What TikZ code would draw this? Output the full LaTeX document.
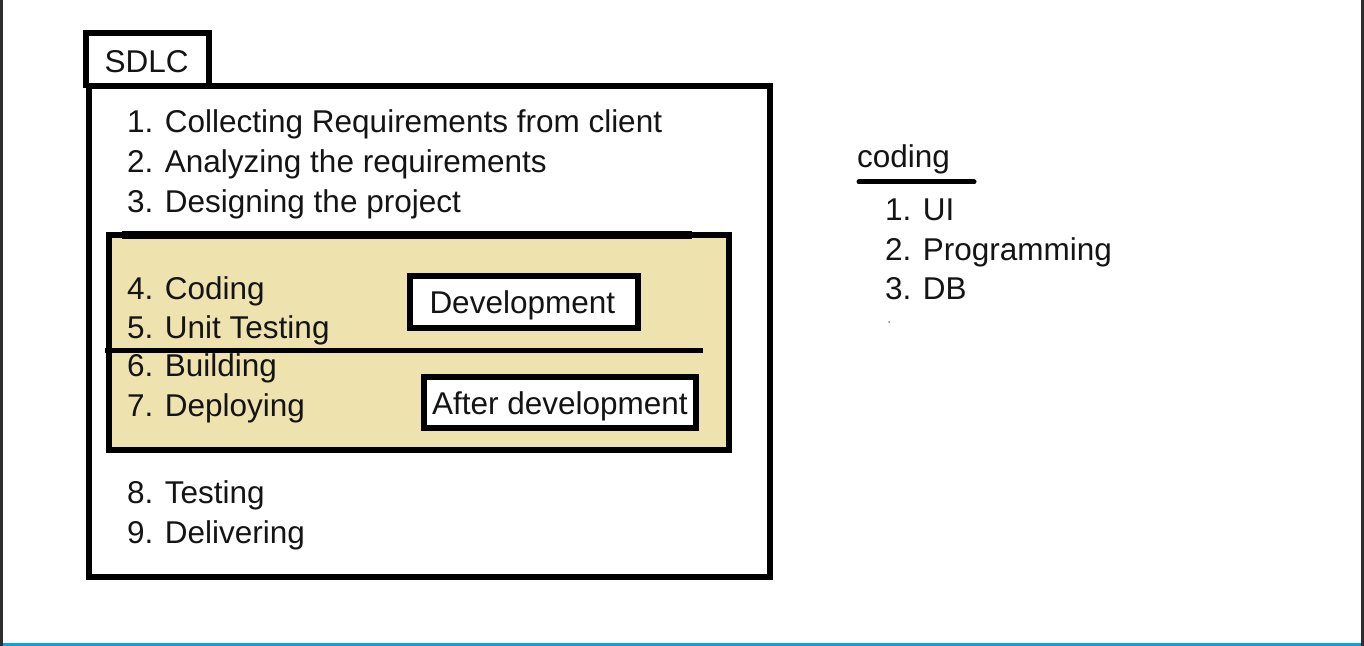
\documentclass[tikz,border=0pt]{standalone}
\usepackage{fontspec}
\setmainfont{Liberation Sans}
\definecolor{phasefill}{RGB}{238,226,175}
\definecolor{edgegray}{RGB}{45,45,45}
\definecolor{baseblue}{RGB}{10,162,230}
\definecolor{txt}{RGB}{20,20,20}
\tikzset{
  txtnode/.style={anchor=base west, inner sep=0pt, outer sep=0pt, text=txt, font=\fontsize{15.75}{19}\selectfont},
  heavy/.style={draw=black, line width=3pt},
  labelbox/.style={draw=black, line width=3pt, fill=white},
}
\begin{document}
\begin{tikzpicture}[x=0.5pt,y=-0.5pt]
\useasboundingbox (0,0) rectangle (1364,646);
\fill[white] (0,0) rectangle (1364,646);
% frame
\draw[edgegray, line width=1.4pt] (1.4,0) -- (1.4,646);
\draw[edgegray, line width=1.4pt] (1362.6,0) -- (1362.6,646);
\draw[baseblue, line width=1.5pt] (3,644.5) -- (1361,644.5);
% SDLC tab and main box
\draw[labelbox] (86,88) -- (86,33) -- (209,33) -- (209,88);
\draw[heavy] (88.5,86) rectangle (770,577);
% phase box
\draw[line width=3pt, fill=phasefill] (108.5,235) rectangle (729,449.5);
\draw[line width=4pt] (122,235.5) -- (692,235.5);
\draw[line width=2.5pt] (105,350.5) -- (703,350.5);
% label boxes
\draw[labelbox] (410,276) rectangle (638,328);
\draw[labelbox] (424,377) rectangle (696,428);
% texts
\node[txtnode] (sdlc) at (104.5,73) {SDLC};
\node[txtnode] (s1) at (127,133) {1. Collecting Requirements from client};
\node[txtnode] (s2) at (127,173) {2. Analyzing the requirements};
\node[txtnode] (s3) at (127,212.5) {3. Designing the project};
\node[txtnode] (s4) at (127,300) {4. Coding};
\node[txtnode] (s5) at (127,338.5) {5. Unit Testing};
\node[txtnode] (s6) at (127,377) {6. Building};
\node[txtnode] (s7) at (127,416) {7. Deploying};
\node[txtnode] (s8) at (127,503.5) {8. Testing};
\node[txtnode] (s9) at (127,543) {9. Delivering};
\node[txtnode] (dev) at (429.5,314) {Development};
\node[txtnode] (after) at (432,415) {After development};
% coding list
\node[txtnode] (coding) at (857,168) {coding};
\draw[line width=2.5pt, line cap=round] (859,182) -- (974,182);
\node[txtnode] (c1) at (885,221) {1. UI};
\node[txtnode] (c2) at (885,261) {2. Programming};
\node[txtnode] (c3) at (885,299.5) {3. DB};
\fill[gray] (889,322) circle (1);
\end{tikzpicture}
\end{document}
